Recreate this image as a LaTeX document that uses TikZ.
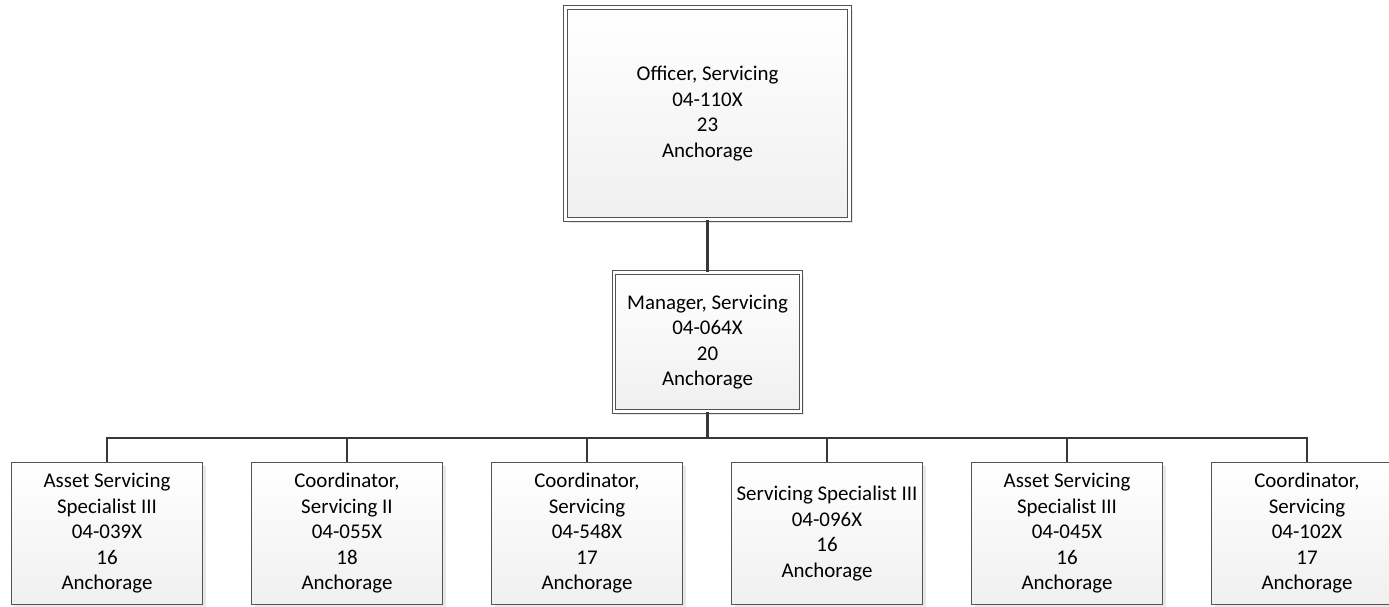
\documentclass[tikz,border=0pt]{standalone}
\usepackage{fontspec}
\setmainfont{Carlito}
\usetikzlibrary{shadows}

\tikzset{
  posbox/.style={draw=gray!65!black, line width=1.2bp, shading=axis, top color=white, bottom color=gray!12,
    minimum width=191bp, minimum height=142bp, inner sep=0pt, align=center,
    font=\fontsize{21}{25.6}\selectfont,
    drop shadow={shadow xshift=3bp, shadow yshift=-3bp, fill=gray!18, opacity=1}},
  headbox/.style={posbox, double=white, double distance=2.4bp, line width=1.1bp},
  link/.style={draw=black!78, line width=2.6bp, line join=miter},
}

\begin{document}
\begin{tikzpicture}[x=1bp,y=-1bp]
    \useasboundingbox (0,0) rectangle (1389,607);

    \node[headbox, minimum width=284bp, minimum height=212bp] (officer) at (707.5,113.5)
        {Officer, Servicing\\04-110X\\23\\Anchorage};
    \node[headbox, minimum width=187bp, minimum height=139bp] (manager) at (707.5,342)
        {Manager, Servicing\\04-064X\\20\\Anchorage};

    \coordinate (bus) at (707.5,438);

    \node[posbox] (asset1) at (107,533.5) {Asset Servicing\\Specialist III\\04-039X\\16\\Anchorage};
    \node[posbox] (coord1) at (347,533.5) {Coordinator,\\Servicing II\\04-055X\\18\\Anchorage};
    \node[posbox] (coord2) at (587,533.5) {Coordinator,\\Servicing\\04-548X\\17\\Anchorage};
    \node[posbox] (spec1) at (827,533.5) {Servicing Specialist III\\04-096X\\16\\Anchorage};
    \node[posbox] (asset2) at (1067,533.5) {Asset Servicing\\Specialist III\\04-045X\\16\\Anchorage};
    \node[posbox] (coord3) at (1307,533.5) {Coordinator,\\Servicing\\04-102X\\17\\Anchorage};

    \draw[link] (officer.south) -- (manager.north);
    \draw[link] (manager.south) -- (bus);
    \draw[link] (bus) -| (asset1.north);
    \draw[link] (bus) -| (coord1.north);
    \draw[link] (bus) -| (coord2.north);
    \draw[link] (bus) -| (spec1.north);
    \draw[link] (bus) -| (asset2.north);
    \draw[link] (bus) -| (coord3.north);
\end{tikzpicture}
\end{document}
